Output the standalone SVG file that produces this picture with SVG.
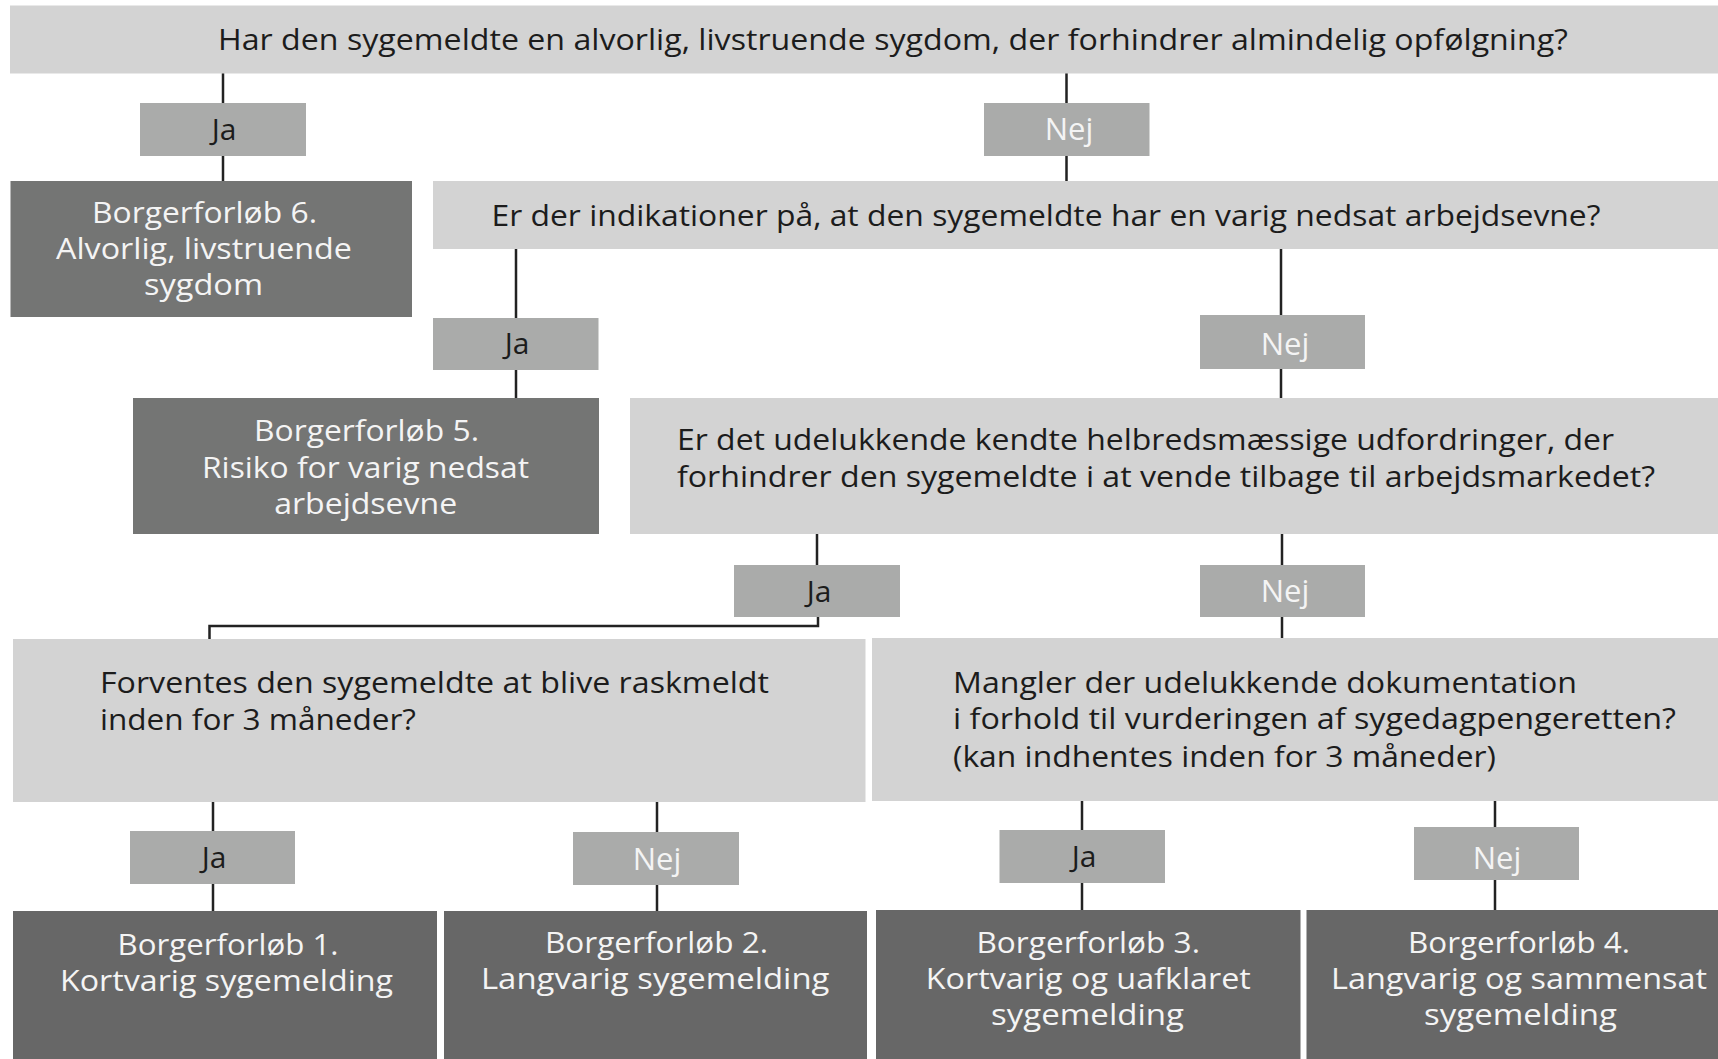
<svg xmlns="http://www.w3.org/2000/svg" width="1718" height="1059" viewBox="0 0 1718 1059">
<style>
text{font-family:"Open Sans","Noto Sans","Liberation Sans",sans-serif;font-size:29px}
.q{fill:#d3d3d3}
.lab{fill:#aaabaa}
.res1{fill:#747574}
.res2{fill:#676767}
.tq{fill:#1c1c1c}
.tw{fill:#f4f4f4;text-anchor:middle}
.tj{fill:#1c1c1c;text-anchor:middle;font-size:30px}
.tn{fill:#f4f4f4;text-anchor:middle;font-size:31px}
.c{stroke:#222;stroke-width:2.5;fill:none}
</style>
<rect width="1718" height="1059" fill="#ffffff"/>
<g id="connectors">
<path class="c" d="M223 73V103M223 156V181"/>
<path class="c" d="M1066.5 73V103M1066.5 156V181"/>
<path class="c" d="M516 249V318M516 370V398"/>
<path class="c" d="M1281 249V315M1281 369V398"/>
<path class="c" d="M817 534V565M818 617V626H209.5V639"/>
<path class="c" d="M1282 534V565M1282 617V638"/>
<path class="c" d="M213 802V831M213 884V911"/>
<path class="c" d="M657 802V832M657 885V911"/>
<path class="c" d="M1082 801V830M1082 883V910"/>
<path class="c" d="M1495 801V827M1495 880V910"/>
</g>
<g id="q1"><rect class="q" x="10" y="5.5" width="1708" height="68"/>
<text class="tq" x="218" y="49.5" textLength="1350" lengthAdjust="spacingAndGlyphs">Har den sygemeldte en alvorlig, livstruende sygdom, der forhindrer almindelig opfølgning?</text></g>
<g id="ja1"><rect class="lab" x="140" y="103" width="166" height="53"/><text class="tj" x="224" y="140">Ja</text></g>
<g id="nej1"><rect class="lab" x="984" y="103" width="165.5" height="53"/><text class="tn" x="1069" y="140">Nej</text></g>
<g id="b6"><rect class="res1" x="10.5" y="181" width="401.5" height="136"/>
<text class="tw" x="204.5" y="222.7" textLength="225" lengthAdjust="spacingAndGlyphs">Borgerforløb 6.</text>
<text class="tw" x="204" y="259" textLength="296" lengthAdjust="spacingAndGlyphs">Alvorlig, livstruende</text>
<text class="tw" x="203.5" y="295" textLength="119" lengthAdjust="spacingAndGlyphs">sygdom</text></g>
<g id="q2"><rect class="q" x="433" y="181" width="1285" height="68"/>
<text class="tq" x="491.5" y="226" textLength="1109" lengthAdjust="spacingAndGlyphs">Er der indikationer på, at den sygemeldte har en varig nedsat arbejdsevne?</text></g>
<g id="ja2"><rect class="lab" x="433" y="318" width="165.5" height="52"/><text class="tj" x="517" y="354">Ja</text></g>
<g id="nej2"><rect class="lab" x="1200" y="315" width="165" height="54"/><text class="tn" x="1285" y="355">Nej</text></g>
<g id="b5"><rect class="res1" x="133" y="398" width="466" height="136"/>
<text class="tw" x="366.5" y="441" textLength="225" lengthAdjust="spacingAndGlyphs">Borgerforløb 5.</text>
<text class="tw" x="365.5" y="477.7" textLength="327" lengthAdjust="spacingAndGlyphs">Risiko for varig nedsat</text>
<text class="tw" x="365.7" y="514" textLength="183" lengthAdjust="spacingAndGlyphs">arbejdsevne</text></g>
<g id="q3"><rect class="q" x="630" y="398" width="1088" height="136"/>
<text class="tq" x="677" y="450" textLength="937" lengthAdjust="spacingAndGlyphs">Er det udelukkende kendte helbredsmæssige udfordringer, der</text>
<text class="tq" x="677" y="486.7" textLength="978" lengthAdjust="spacingAndGlyphs">forhindrer den sygemeldte i at vende tilbage til arbejdsmarkedet?</text></g>
<g id="ja3"><rect class="lab" x="734" y="565" width="166" height="52"/><text class="tj" x="819" y="602">Ja</text></g>
<g id="nej3"><rect class="lab" x="1200" y="565" width="165" height="52"/><text class="tn" x="1285" y="602">Nej</text></g>
<g id="q4"><rect class="q" x="13" y="639" width="852.5" height="163"/>
<text class="tq" x="100" y="693" textLength="669" lengthAdjust="spacingAndGlyphs">Forventes den sygemeldte at blive raskmeldt</text>
<text class="tq" x="100" y="730" textLength="316" lengthAdjust="spacingAndGlyphs">inden for 3 måneder?</text></g>
<g id="q5"><rect class="q" x="872" y="638" width="846" height="163"/>
<text class="tq" x="953" y="692.7" textLength="624" lengthAdjust="spacingAndGlyphs">Mangler der udelukkende dokumentation</text>
<text class="tq" x="953" y="729.3" textLength="723" lengthAdjust="spacingAndGlyphs">i forhold til vurderingen af sygedagpengeretten?</text>
<text class="tq" x="953" y="766.7" textLength="543" lengthAdjust="spacingAndGlyphs">(kan indhentes inden for 3 måneder)</text></g>
<g id="ja4"><rect class="lab" x="130" y="831" width="165" height="53"/><text class="tj" x="214" y="868">Ja</text></g>
<g id="nej4"><rect class="lab" x="573" y="832" width="166" height="53"/><text class="tn" x="657" y="870">Nej</text></g>
<g id="ja5"><rect class="lab" x="999.5" y="830" width="165.5" height="53"/><text class="tj" x="1084" y="867">Ja</text></g>
<g id="nej5"><rect class="lab" x="1414" y="827" width="165" height="53"/><text class="tn" x="1497" y="869">Nej</text></g>
<g id="b1"><rect class="res2" x="13" y="911" width="424" height="148"/>
<text class="tw" x="228" y="955" textLength="221" lengthAdjust="spacingAndGlyphs">Borgerforløb 1.</text>
<text class="tw" x="226.5" y="991" textLength="333" lengthAdjust="spacingAndGlyphs">Kortvarig sygemelding</text></g>
<g id="b2"><rect class="res2" x="444" y="911" width="423" height="148"/>
<text class="tw" x="656.5" y="953" textLength="223" lengthAdjust="spacingAndGlyphs">Borgerforløb 2.</text>
<text class="tw" x="655.2" y="989" textLength="348.5" lengthAdjust="spacingAndGlyphs">Langvarig sygemelding</text></g>
<g id="b3"><rect class="res2" x="876" y="910" width="424.5" height="149"/>
<text class="tw" x="1088.2" y="953" textLength="223.5" lengthAdjust="spacingAndGlyphs">Borgerforløb 3.</text>
<text class="tw" x="1088.3" y="989" textLength="325" lengthAdjust="spacingAndGlyphs">Kortvarig og uafklaret</text>
<text class="tw" x="1087.5" y="1025" textLength="193" lengthAdjust="spacingAndGlyphs">sygemelding</text></g>
<g id="b4"><rect class="res2" x="1306.5" y="910" width="411.5" height="149"/>
<text class="tw" x="1519" y="953" textLength="222" lengthAdjust="spacingAndGlyphs">Borgerforløb 4.</text>
<text class="tw" x="1519" y="989" textLength="376" lengthAdjust="spacingAndGlyphs">Langvarig og sammensat</text>
<text class="tw" x="1520.5" y="1025" textLength="193" lengthAdjust="spacingAndGlyphs">sygemelding</text></g>
</svg>
